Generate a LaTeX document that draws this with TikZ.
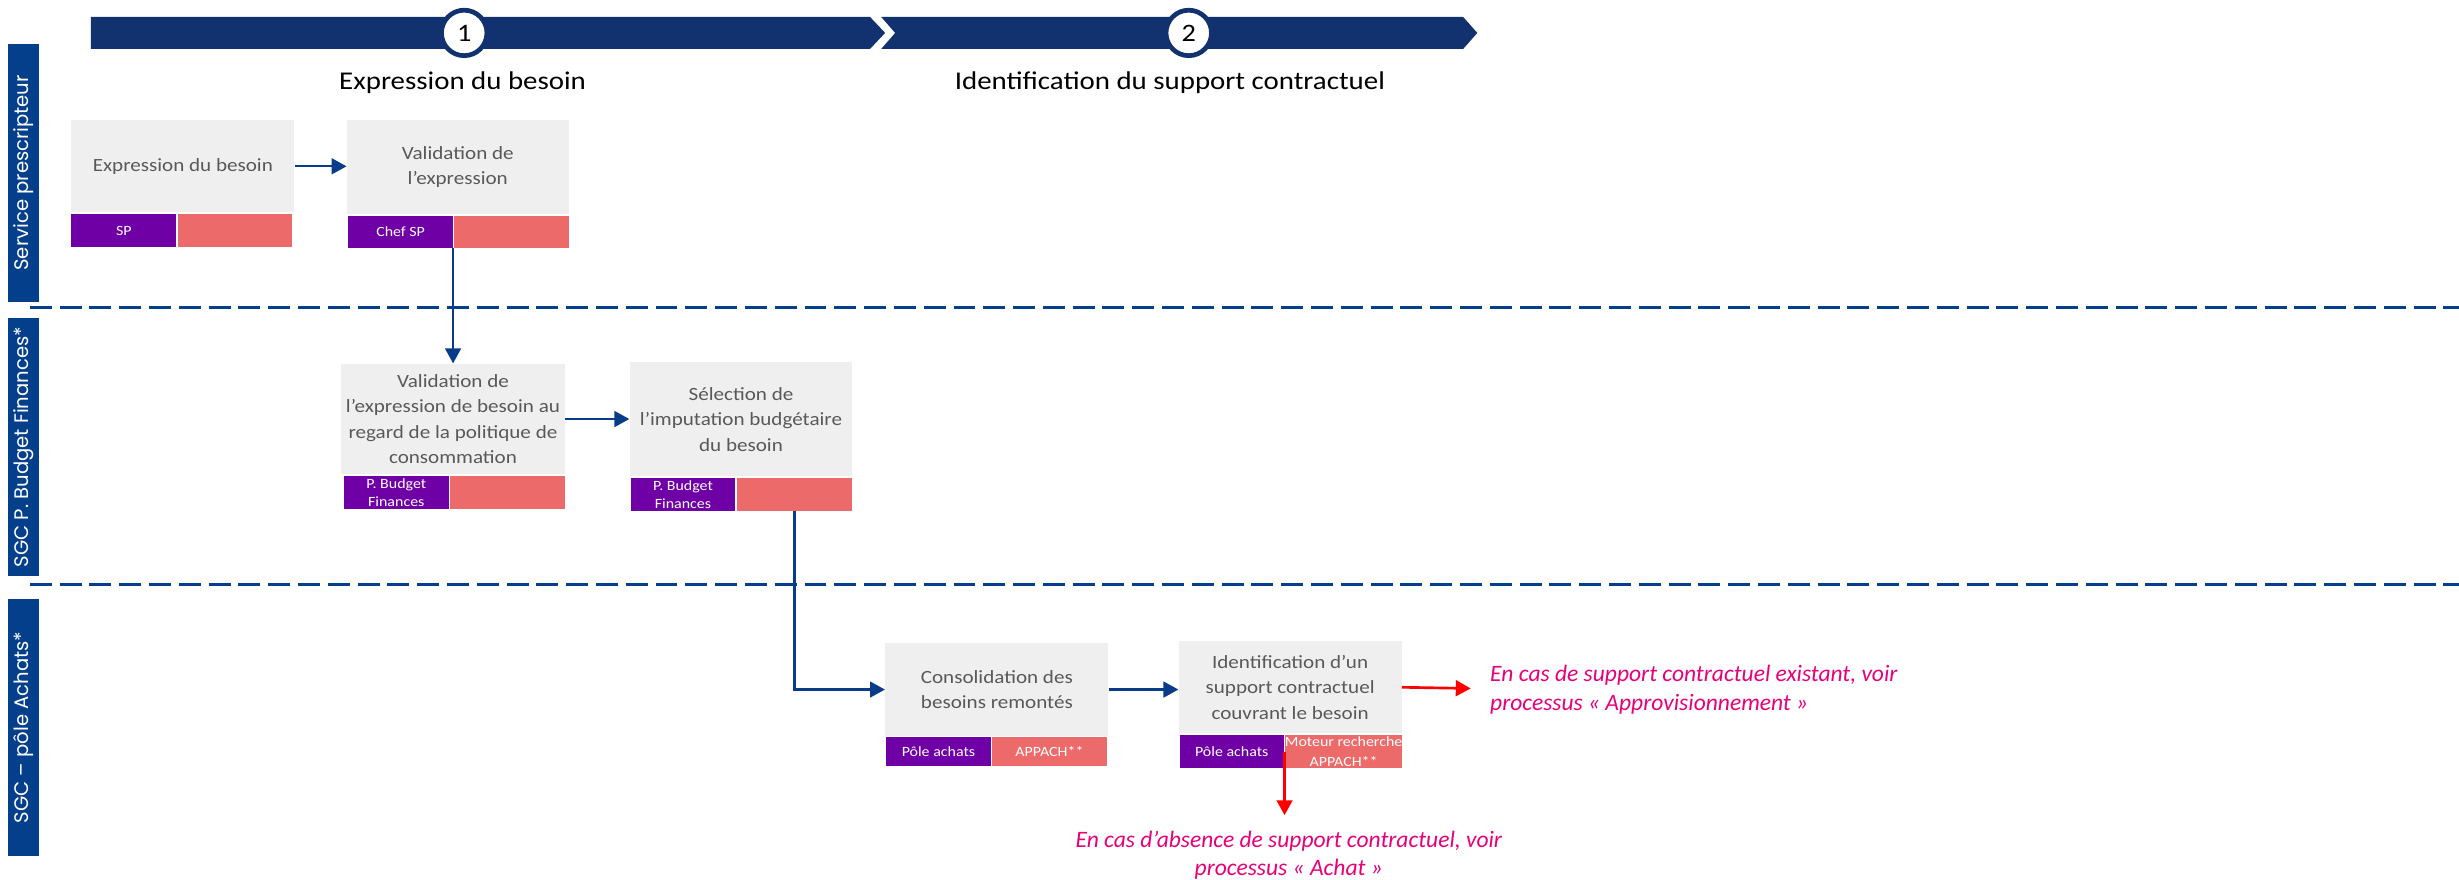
\documentclass[tikz,border=0pt]{standalone}
\usepackage{fontspec}
\setmainfont{Carlito}[FakeStretch=1.13]
\newfontfamily\lanefont{Poppins}
\newfontfamily\notefont{Carlito}
\usetikzlibrary{arrows.meta}

\definecolor{bannerblue}{RGB}{17,49,111}
\definecolor{laneblue}{RGB}{4,63,140}
\definecolor{flowblue}{RGB}{8,60,138}
\definecolor{boxgray}{RGB}{239,239,239}
\definecolor{boxtext}{RGB}{89,89,89}
\definecolor{actorpurple}{RGB}{111,0,165}
\definecolor{toolsalmon}{RGB}{236,106,106}
\definecolor{altred}{RGB}{255,0,0}
\definecolor{notepink}{RGB}{230,0,122}

\tikzset{
  procbox/.style={fill=boxgray, inner sep=0pt, anchor=north west, align=center,
    text=boxtext, font=\fontsize{11.9}{16.3}\selectfont},
  actor/.style={fill=actorpurple, inner sep=0pt, anchor=north west, align=center,
    text=white, font=\fontsize{9}{11.5}\selectfont},
  tool/.style={fill=toolsalmon, inner sep=0pt, anchor=north west, align=center,
    text=white, font=\fontsize{9}{12.5}\selectfont},
  flow/.style={draw=flowblue, line width=1.5pt, -{Triangle[length=9.5pt,width=10pt]}},
  altflow/.style={draw=altred, line width=1.7pt, -{Triangle[length=9.5pt,width=10pt]}},
  note/.style={text=notepink, inner sep=0pt,
    font=\notefont\itshape\fontsize{15}{18}\selectfont},
  lane/.style={fill=laneblue, text=white, rotate=90, inner sep=0pt,
    minimum height=19.9pt, font=\lanefont\fontsize{12.5}{14}\selectfont},
  stepnum/.style={circle, fill=white, draw=bannerblue, line width=3pt,
    minimum size=29pt, inner sep=0pt, font=\fontsize{16}{18}\selectfont},
  phase/.style={inner sep=0pt, anchor=base, font=\fontsize{16.3}{19}\selectfont},
  lanesep/.style={draw=laneblue, line width=1.7pt, dash pattern=on 14pt off 5pt}
}

\begin{document}
\begin{tikzpicture}[x=1pt,y=-1pt]
\useasboundingbox (0,0) rectangle (1568,561);

% phase banner
\fill[bannerblue] (58,10.8) -- (554.8,10.8) -- (564.4,21) -- (554.8,31.2) -- (58,31.2) -- cycle;
\fill[bannerblue] (561.9,10.8) -- (933,10.8) -- (942,21) -- (933,31.2) -- (561.9,31.2) -- (570.8,21) -- cycle;
\node[stepnum] (c1) at (296,21) {1};
\node[stepnum] (c2) at (758,21) {2};
\node[phase] (ph1) at (295,56.8) {Expression du besoin};
\node[phase] (ph2) at (746,56.8) {Identification du support contractuel};

% swimlanes
\node[lane, minimum width=164.3pt] (l1) at (15.05,110.25) {Service prescripteur};
\node[lane, minimum width=164.1pt] (l2) at (15.05,285.05) {SGC P. Budget Finances*};
\node[lane, minimum width=163.7pt] (l3) at (15.05,463.85) {SGC – pôle Achats*};
\draw[lanesep] (19,196) -- (1568,196);
\draw[lanesep] (19,372.7) -- (1568,372.7);

% steps
\node[procbox, minimum width=142.2pt, minimum height=58.7pt] (b1) at (45.3,76.5) {Expression du besoin};
\node[actor, minimum width=66.9pt, minimum height=21pt] (p1) at (45.3,136.5) {SP};
\node[tool, minimum width=72.7pt, minimum height=21pt] (s1) at (113.5,136.5) {};

\node[procbox, minimum width=141.4pt, minimum height=59.5pt] (b2) at (221,76.5) {Validation de\\l’expression};
\node[actor, minimum width=66.5pt, minimum height=20.7pt] (p2) at (222,137.3) {Chef SP};
\node[tool, minimum width=72.8pt, minimum height=20.7pt] (s2) at (289.6,137.3) {};

\node[procbox, minimum width=142.3pt, minimum height=70.6pt] (b3) at (217.5,231.7) {Validation de\\l’expression de besoin au\\regard de la politique de\\consommation};
\node[actor, minimum width=67pt, minimum height=21pt] (p3) at (219,303.4) {P. Budget\\Finances};
\node[tool, minimum width=73pt, minimum height=21pt] (s3) at (287,303.4) {};

\node[procbox, minimum width=142pt, minimum height=72.7pt] (b4) at (401.3,230.9) {Sélection de\\l’imputation budgétaire\\du besoin};
\node[actor, minimum width=66.6pt, minimum height=20.6pt] (p4) at (402,304.9) {P. Budget\\Finances};
\node[tool, minimum width=73.6pt, minimum height=20.6pt] (s4) at (469.7,304.9) {};

\node[procbox, minimum width=142.3pt, minimum height=59.8pt] (b5) at (564.3,409.6) {Consolidation des\\besoins remontés};
\node[actor, minimum width=66.6pt, minimum height=18.5pt] (p5) at (564.9,470) {Pôle achats};
\node[tool, minimum width=72.8pt, minimum height=18.5pt] (s5) at (632.6,470) {APPACH**};

\node[procbox, minimum width=142.1pt, minimum height=58.5pt] (b6) at (751.4,408.8) {Identification d’un\\support contractuel\\couvrant le besoin};
\node[actor, minimum width=66.4pt, minimum height=21.1pt] (p6) at (752,468.5) {Pôle achats};
\node[tool, minimum width=73.5pt, minimum height=21.1pt] (s6) at (819.1,468.5) {Moteur recherche\\APPACH**};

% outcome notes
\node[note, anchor=north west, align=left] (n1) at (950,424.2) {En cas de support contractuel existant, voir\\processus « Approvisionnement »};
\node[note, anchor=north, align=center] (n2) at (821.8,529.5) {En cas d’absence de support contractuel, voir\\processus « Achat »};
\coordinate (t1) at (937.8,439);
\coordinate (t2) at (819.1,519.8);

% flow
\draw[flow] (b1.east) -- (b1.east -| b2.west);
\draw[flow] (p2.south east) -- (p2.south east |- b3.north);
\draw[flow] (b3.east) -- (b3.east -| b4.west);
\draw[flow] (s4.south) |- (b5.west);
\draw[flow] (b5.east) -- (b5.east -| b6.west);
\draw[altflow] (b6.east) -- (t1);
\draw[altflow] (s6.west) -- (t2);
\end{tikzpicture}
\end{document}
